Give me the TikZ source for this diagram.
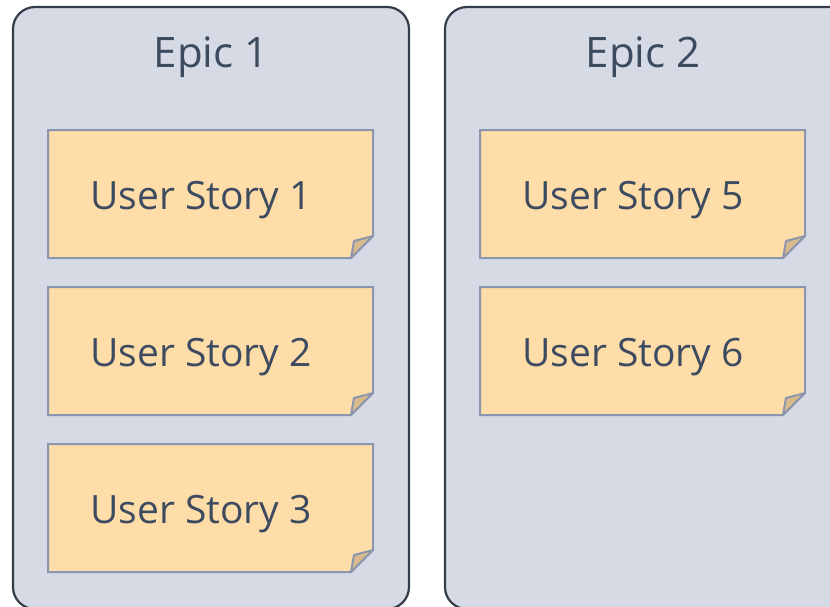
\documentclass[tikz,border=0pt]{standalone}
\usepackage{fontspec}
\setmainfont{Open Sans}
\definecolor{epicfill}{RGB}{214,218,228}
\definecolor{epicline}{RGB}{52,60,74}
\definecolor{notefill}{RGB}{255,221,168}
\definecolor{noteline}{RGB}{138,150,173}
\definecolor{flapfill}{RGB}{216,186,140}
\definecolor{txt}{RGB}{61,75,96}
\tikzset{
  epicbox/.style={draw=epicline, fill=epicfill, line width=2.2pt, rounded corners=22pt},
  notebox/.style={draw=noteline, fill=notefill, line width=2pt, line join=miter},
  flap/.style={draw=noteline, fill=flapfill, line width=2pt, line join=round},
  epictitle/.style={text=txt, font=\fontsize{42}{48}\selectfont, anchor=base, inner sep=0pt},
  storytext/.style={text=txt, font=\fontsize{39}{44}\selectfont, anchor=base, inner sep=0pt},
}
\newcommand{\stickynote}[3]{% x y name
  \path[notebox] (#1,#2) -- (#1+325,#2) -- (#1+325,#2+106) -- (#1+303,#2+128) -- (#1,#2+128) -- cycle;
  \path[flap] (#1+325,#2+106) -- (#1+306,#2+111) -- (#1+303,#2+128) -- cycle;
}
\begin{document}
\begin{tikzpicture}[x=1pt,y=-1pt]
\useasboundingbox (0,0) rectangle (830,606);
\begin{scope}
\clip (0,0) rectangle (830,606);
\draw[epicbox] (13,7) rectangle (409,609);
\draw[epicbox] (445,7) rectangle (860,609);
\node[epictitle] (e1) at (211,67) {Epic 1};
\node[epictitle] (e2) at (643,67) {Epic 2};
\stickynote{48}{130}{s1}
\stickynote{48}{287}{s2}
\stickynote{48}{444}{s3}
\stickynote{480}{130}{s5}
\stickynote{480}{287}{s6}
\node[storytext] (u1) at (201,209) {User Story 1};
\node[storytext] (u2) at (201,366) {User Story 2};
\node[storytext] (u3) at (201,523) {User Story 3};
\node[storytext] (u5) at (633,209) {User Story 5};
\node[storytext] (u6) at (633,366) {User Story 6};
\end{scope}
\end{tikzpicture}
\end{document}
